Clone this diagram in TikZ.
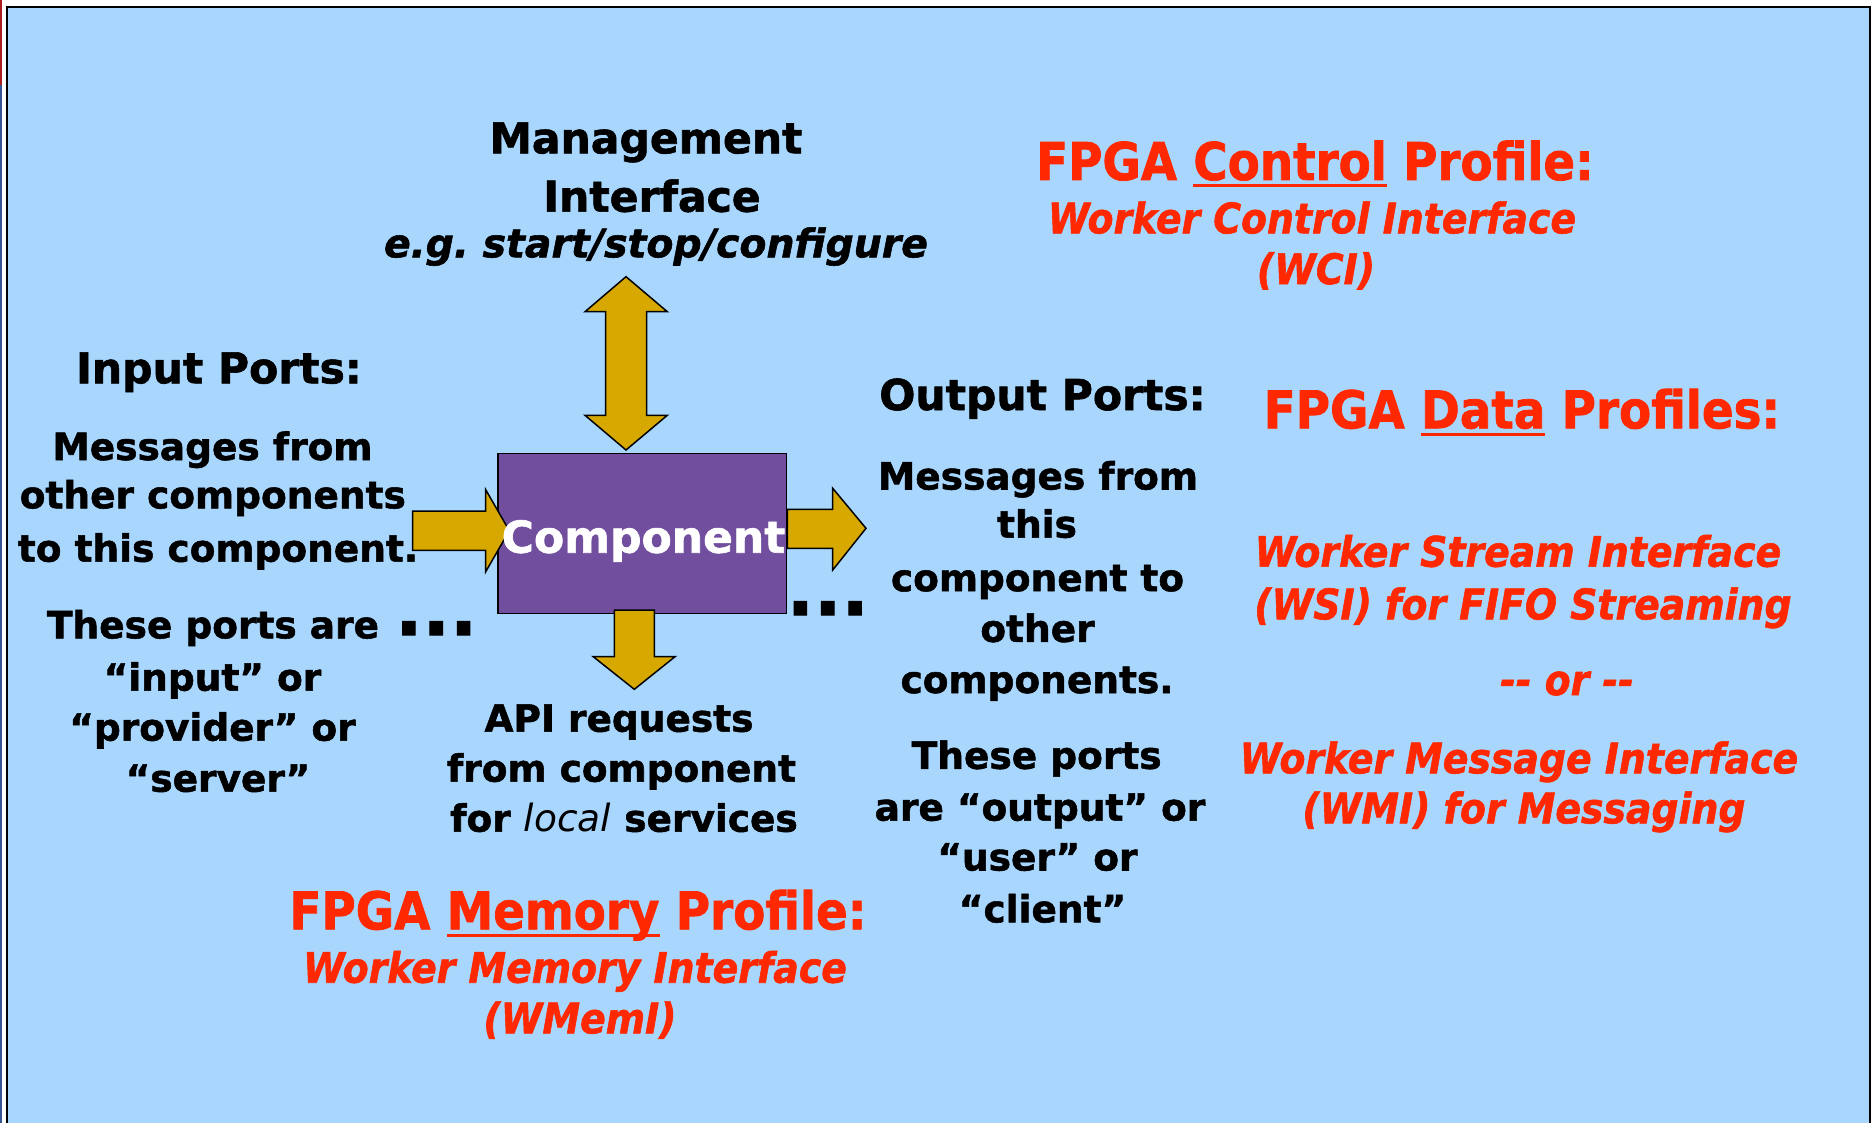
\documentclass[tikz,border=0pt]{standalone}
\usepackage{fontspec}
\setmainfont{DejaVu Sans}[BoldFeatures={FakeBold=1.4}, BoldItalicFeatures={FakeBold=1.4}]
\newfontfamily\redf{DejaVu Sans}[FakeStretch=0.9, BoldFeatures={FakeBold=1.4}, BoldItalicFeatures={FakeBold=1.4}]
\definecolor{bgblue}{RGB}{168,214,253}
\definecolor{comppurple}{RGB}{114,78,159}
\definecolor{arrowgold}{RGB}{214,168,0}
\definecolor{redtxt}{RGB}{255,40,0}
\definecolor{slivred}{RGB}{170,30,30}
\definecolor{slivblue}{RGB}{55,85,150}
\newsavebox\ulbox
\newcommand\myul[1]{\sbox\ulbox{#1}\rlap{\rule[-7.5pt]{\wd\ulbox}{3pt}}\usebox\ulbox}
\frenchspacing
\tikzset{
  txt/.style={anchor=base, inner sep=0pt, outer sep=0pt, text=black},
  headtxt/.style={txt, font=\fontsize{42.5}{50}\selectfont\bfseries},
  bodytxt/.style={txt, font=\fontsize{37.5}{45}\selectfont\bfseries},
  egtxt/.style={txt, font=\fontsize{39.4}{45}\selectfont\bfseries\itshape},
  rhead/.style={txt, text=redtxt, font=\redf\fontsize{52}{60}\selectfont\bfseries},
  rital/.style={txt, text=redtxt, font=\redf\fontsize{42}{50}\selectfont\bfseries\itshape},
  dotstxt/.style={anchor=base west, inner sep=0pt, font=\fontsize{72}{80}\selectfont\bfseries},
  blockarrow/.style={fill=arrowgold, draw=black, line width=1.5pt, line join=miter},
  compbox/.style={draw=black, line width=1.5pt, fill=comppurple, inner sep=0pt,
    minimum width=288.7pt, minimum height=160pt},
}
\begin{document}
\begin{tikzpicture}[x=1pt,y=-1pt]
\useasboundingbox (0,0) rectangle (1876,1123);
\clip (0,0) rectangle (1876,1123);
\fill[white] (0,0) rectangle (1876,1123);
% edge slivers
\fill[slivred] (0,0) rectangle (1.7,85);
\fill[slivblue] (0,85) rectangle (1.7,1123);
% panel
\draw[fill=bgblue, draw=black, line width=2.2pt] (6.8,6.8) rectangle (1870.3,1140);

% component box
\node[compbox] (comp) at (642.35,533.3) {};

% block arrows
\draw[blockarrow] (412.7,511) -- (485.7,511) -- (485.7,489.7) -- (509.3,530.7)
  -- (485.7,571.7) -- (485.7,550.4) -- (412.7,550.4) -- cycle;
\draw[blockarrow] (comp.east |- 0,509.3) -- (832.7,509.3) -- (832.7,488.3) -- (866,528.3)
  -- (832.7,570) -- (832.7,548.3) -- (comp.east |- 0,548.3) -- cycle;
\draw[blockarrow] (626,276.7) -- (667.3,311.7) -- (646.7,311.7) -- (646.7,415.3)
  -- (667.3,415.3) -- (626,450) -- (585,415.3) -- (605.7,415.3) -- (605.7,311.7)
  -- (585,311.7) -- cycle;
\draw[blockarrow] (614.3,610) -- (654.3,610) -- (654.3,656.7) -- (675,656.7)
  -- (634.3,689.3) -- (593.3,656.7) -- (614.3,656.7) -- cycle;

\node[txt, text=white, font=\fontsize{44}{50}\selectfont\bfseries] (comptxt) at (643.5,552.7) {Component};

% dots
\node[dotstxt] (dotsl) at (395,635) {...};
\node[dotstxt] (dotsr) at (786.5,615) {...};

% management
\node[headtxt] (mg1) at (646,153.3) {Management};
\node[headtxt] (mg2) at (652,211.7) {Interface};
\node[egtxt] (mg3) at (656,257.3) {e.g. start/stop/configure};

% control profile
\node[rhead] (rc1) at (1315,180) {FPGA \myul{Control} Profile:};
\node[rital] (rc2) at (1312,233.3) {Worker Control Interface};
\node[rital] (rc3) at (1316,284) {(WCI)};

% input ports
\node[headtxt] (ip0) at (219,383.3) {Input Ports:};
\node[bodytxt] (ip1) at (212.5,460) {Messages from};
\node[bodytxt] (ip2) at (212.8,508.3) {other components};
\node[bodytxt] (ip3) at (218,561.7) {to this component.};
\node[bodytxt] (ip4) at (213,638.3) {These ports are};
\node[bodytxt] (ip5) at (212.5,690.7) {“input” or};
\node[bodytxt] (ip6) at (212.5,740.7) {“provider” or};
\node[bodytxt] (ip7) at (218,791.7) {“server”};

% output ports
\node[headtxt] (op0) at (1042.5,410) {Output Ports:};
\node[bodytxt] (op1) at (1038,489.5) {Messages from};
\node[bodytxt] (op2) at (1037,537.6) {this};
\node[bodytxt] (op3) at (1037.5,591.2) {component to};
\node[bodytxt] (op4) at (1037.5,641.9) {other};
\node[bodytxt] (op5) at (1037,693) {components.};
\node[bodytxt] (op6) at (1036.7,768.8) {These ports};
\node[bodytxt] (op7) at (1040,820.6) {are “output” or};
\node[bodytxt] (op8) at (1037.5,870.5) {“user” or};
\node[bodytxt] (op9) at (1042.5,922.3) {“client”};

% API
\node[bodytxt] (ap1) at (619,731.7) {API requests};
\node[bodytxt] (ap2) at (621.5,781.7) {from component};
\node[bodytxt] (ap3) at (624,831.7) {for {\mdseries\itshape local} services};

% memory profile
\node[rhead] (rm1) at (578,929.3) {FPGA \myul{Memory} Profile:};
\node[rital] (rm2) at (575,982.7) {Worker Memory Interface};
\node[rital] (rm3) at (580,1033.3) {(WMemI)};

% data profiles
\node[rhead] (rd1) at (1522,428.3) {FPGA \myul{Data} Profiles:};
\node[rital] (rd2) at (1518,566.7) {Worker Stream Interface};
\node[rital] (rd3) at (1523,619.3) {(WSI) for FIFO Streaming};
\node[rital] (rd4) at (1567,695) {-\kern0pt- or -\kern0pt-};
\node[rital] (rd5) at (1519,773.3) {Worker Message Interface};
\node[rital] (rd6) at (1524,823.3) {(WMI) for Messaging};
\end{tikzpicture}
\end{document}
